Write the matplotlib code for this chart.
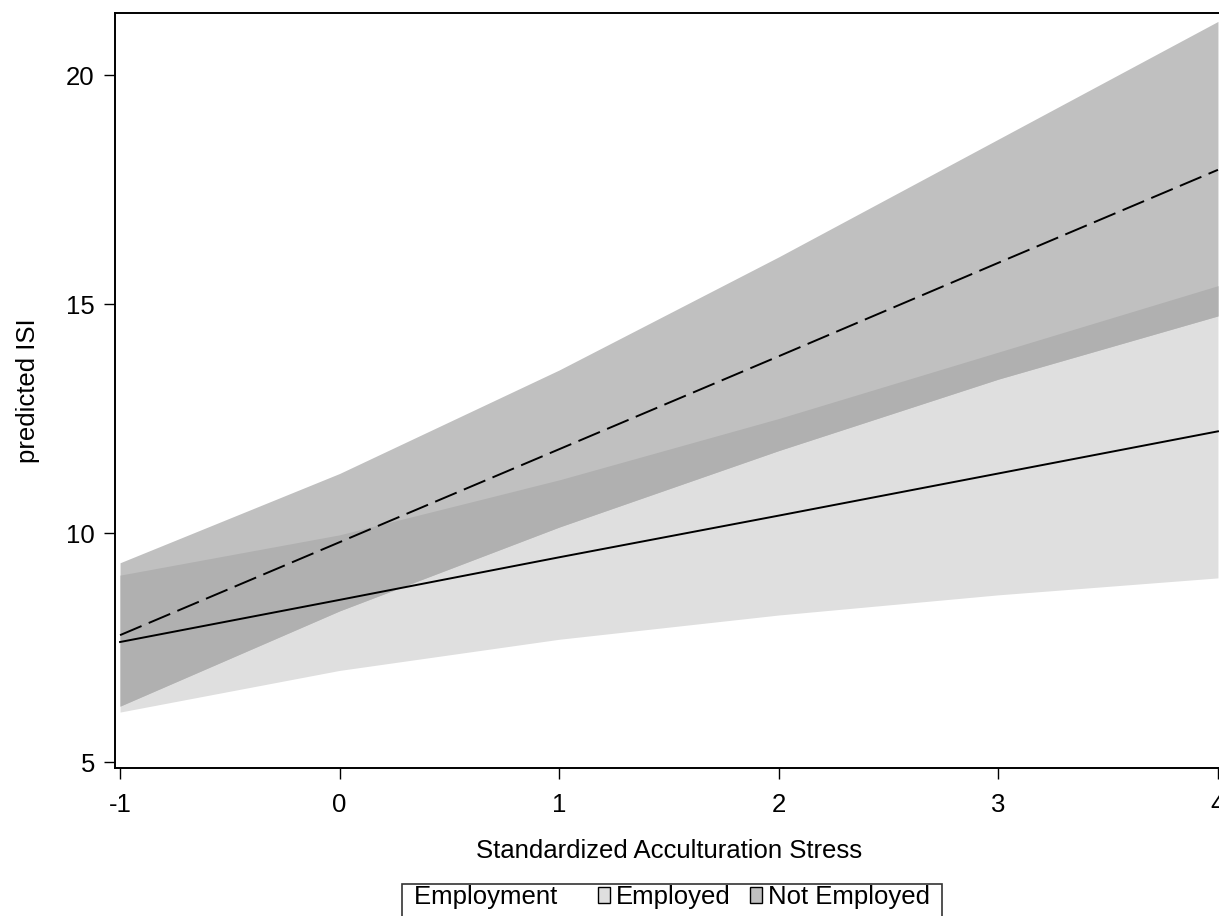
import matplotlib
matplotlib.use("Agg")
import matplotlib.pyplot as plt
from matplotlib.patches import Patch, Rectangle
from matplotlib.path import Path
from matplotlib.legend_handler import HandlerBase

# predicted ISI by standardized acculturation stress
stress = [-1, 0, 1, 2, 3, 4]

employed_fit = [7.62, 8.54, 9.47, 10.38, 11.30, 12.22]
employed_lo = [6.09, 7.00, 7.68, 8.21, 8.65, 9.02]
employed_hi = [9.08, 9.96, 11.16, 12.50, 13.95, 15.40]

not_employed_fit = [7.77, 9.80, 11.83, 13.86, 15.90, 17.93]
not_employed_lo = [6.22, 8.30, 10.13, 11.80, 13.36, 14.74]
not_employed_hi = [9.35, 11.30, 13.56, 16.03, 18.60, 21.17]

x_ticks = [-1, 0, 1, 2, 3, 4]
x_ticklabels = ["-1", "0", "1", "2", "3", "4"]
y_ticks = [5, 10, 15, 20]
y_ticklabels = ["5", "10", "15", "20"]

legend_title = "Employment"
group_labels = ["Employed", "Not Employed"]

C_EMP = "#dfdfdf"
C_NOT = "#c0c0c0"
C_BOTH = "#b0b0b0"
FS = 18.5

HLEN, HPAD, BPAD = 0.44, 0.23, 0.47

plt.rcParams["font.family"] = ["Liberation Sans", "DejaVu Sans"]


class _Blank(HandlerBase):
    # empty slot so the title can sit inline with the keys
    def create_artists(self, legend, orig_handle, xdescent, ydescent,
                       width, height, fontsize, trans):
        r = Rectangle((0, 0), 0, 0, visible=False, transform=trans)
        return [r]


def _legend_frame(x0, y0, width, height, mutation_size):
    # stata-style key box: tight on top, hides the blank slot on the left,
    # and runs off the bottom of the page
    left = x0 + (HLEN + HPAD) * mutation_size
    right = x0 + width
    top = y0 + height - (BPAD - 0.04) * mutation_size
    bottom = y0 - 1.0 * mutation_size
    return Path([(left, bottom), (right, bottom), (right, top),
                 (left, top), (left, bottom)], closed=True)


fig = plt.figure(figsize=(12.19, 9.16), dpi=100)
ax = fig.add_axes([115 / 1219, 148 / 916, 1108 / 1219, 755 / 916])

ax.fill_between(stress, employed_lo, employed_hi, color=C_EMP, lw=0)
ax.fill_between(stress, not_employed_lo, not_employed_hi, color=C_NOT, lw=0)
# overlap of the two bands
ax.fill_between(stress, not_employed_lo, employed_hi, color=C_BOTH, lw=0)

ax.plot(stress, employed_fit, color="black", lw=1.4)
ax.plot(stress, not_employed_fit, color="black", lw=1.4, dashes=(12, 4))

ax.set_xlim(-1.023, 4.023)
ax.set_ylim(4.869, 21.354)
ax.set_xticks(x_ticks)
ax.set_xticklabels(x_ticklabels)
ax.set_yticks(y_ticks)
ax.set_yticklabels(y_ticklabels)
ax.tick_params(axis="both", direction="out", length=8, width=1.0,
               labelsize=FS, color="black")
ax.tick_params(axis="x", pad=10)
ax.tick_params(axis="y", pad=6.5)
for sp in ax.spines.values():
    sp.set_linewidth(1.4)

ax.set_xlabel("Standardized Acculturation Stress", fontsize=FS, labelpad=16)
ax.set_ylabel("predicted ISI", fontsize=FS, labelpad=19)

title_handle = Patch()
handles = [title_handle,
           Patch(facecolor=C_EMP, edgecolor="black", lw=1.0),
           Patch(facecolor=C_NOT, edgecolor="black", lw=1.0)]
labels = [legend_title + "   "] + group_labels
leg = fig.legend(handles, labels, loc="upper center", ncol=3,
                 bbox_to_anchor=(663 / 1219, 1 - 873 / 916),
                 fontsize=FS, frameon=True, fancybox=False,
                 handlelength=HLEN, handleheight=0.55, handletextpad=HPAD,
                 columnspacing=0.78, borderpad=BPAD, borderaxespad=0,
                 handler_map={title_handle: _Blank()})
leg.get_frame().set_boxstyle(_legend_frame)
leg.get_frame().set_edgecolor("black")
leg.get_frame().set_linewidth(1.2)

fig.savefig("out.png", dpi=100)
